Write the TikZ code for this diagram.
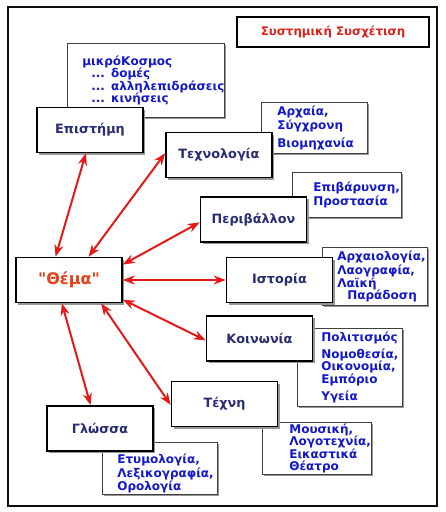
\documentclass[tikz,border=0pt]{standalone}
\usepackage{fontspec}
\setmainfont{DejaVu Sans}[BoldFont={DejaVu Sans Bold}]
\usetikzlibrary{arrows.meta,shadows}

\definecolor{framecol}{RGB}{15, 15, 15}
\definecolor{titlered}{RGB}{215, 35, 25}
\definecolor{themared}{RGB}{230, 65, 25}
\definecolor{topictext}{RGB}{40, 45, 115}
\definecolor{detailtext}{RGB}{20, 25, 200}
\definecolor{arrowred}{RGB}{230, 25, 25}
\definecolor{shadowcol}{RGB}{150, 150, 150}

\tikzset{
  topic/.style={draw=black, line width=1.6pt, fill=white, minimum width=106pt, minimum height=45pt, inner sep=0pt,
    text=topictext, font=\bfseries\fontsize{12.8}{15}\selectfont,
    drop shadow={shadow xshift=2pt, shadow yshift=-2pt, fill=shadowcol, opacity=1}},
  detail/.style={draw=black!75, line width=0.7pt, fill=white, anchor=north west, inner sep=0pt, align=left,
    text=detailtext, font=\bfseries\fontsize{12}{12.3}\selectfont,
    drop shadow={shadow xshift=1.5pt, shadow yshift=-1.5pt, fill=shadowcol, opacity=1}},
  link/.style={arrowred, line width=2pt, {Stealth[length=12pt,width=9pt]}-{Stealth[length=12pt,width=9pt]}}
}

\begin{document}
\begin{tikzpicture}[x=1pt, y=-1pt]
    \useasboundingbox (0,0) rectangle (446,512);

    % Outer frame
    \draw[framecol, line width=2.2pt] (8,7) rectangle (437,506);

    % Title
    \node[draw=black, line width=1.4pt, minimum width=192pt, minimum height=30pt, text=titlered,
          font=\bfseries\fontsize{11.8}{13}\selectfont] (heading) at (333,32) {Συστημική Συσχέτιση};

    % Detail boxes (behind the topics)
    \node[detail, text width=157pt, minimum height=74pt] (mikroDet) at (67,43)
        {\leftskip=15pt μικρόΚοσμος\\ \hspace*{9pt}... δομές\\ \hspace*{9pt}... αλληλεπιδράσεις\\ \hspace*{9pt}... κινήσεις\par};
    \node[detail, text width=106pt, minimum height=51pt] (texnologiaDet) at (261,102)
        {\leftskip=16pt Αρχαία,\\[2pt] Σύγχρονη\\[6pt] Βιομηχανία\par};
    \node[detail, text width=109pt, minimum height=45pt] (perivallonDet) at (292,172)
        {\leftskip=21pt Επιβάρυνση,\\[2pt] Προστασία\par};
    \node[detail, text width=105pt, minimum height=58pt] (istoriaDet) at (322,247)
        {\leftskip=15pt Αρχαιολογία,\\[2pt] Λαογραφία,\\ Λαϊκή\\ \hspace*{10pt}Παράδοση\par};
    \node[detail, text width=105pt, minimum height=78pt] (koinoniaDet) at (297,328)
        {\leftskip=24pt Πολιτισμός\\[5pt] Νομοθεσία,\\ Οικονομία,\\ Εμπόριο\\[5pt] Υγεία\par};
    \node[detail, text width=109pt, minimum height=52pt] (texniDet) at (262,422)
        {\leftskip=27pt Μουσική,\\ Λογοτεχνία,\\ Εικαστικά\\ Θέατρο\par};
    \node[detail, text width=115pt, minimum height=52pt] (glossaDet) at (102,442)
        {\leftskip=15pt \rule{0pt}{20pt}Ετυμολογία,\\[1pt] Λεξικογραφία,\\[1pt] Ορολογία\par};

    % Topics
    \node[topic] (episteme) at (90,130) {Επιστήμη};
    \node[topic] (texnologia) at (219,155) {Τεχνολογία};
    \node[topic] (perivallon) at (253.5,219.5) {Περιβάλλον};
    \node[topic] (istoria) at (279.5,280) {Ιστορία};
    \node[topic] (koinonia) at (259.5,338.5) {Κοινωνία};
    \node[topic] (texni) at (224.5,404) {Τέχνη};
    \node[topic] (glossa) at (100,428.5) {Γλώσσα};

    % Centre
    \node[topic, text=themared, font=\bfseries\fontsize{16}{18}\selectfont] (thema) at (69,280) {\textquotedbl Θέμα\textquotedbl};

    % Links
    \draw[link] (thema.120) -- (episteme.-100);
    \draw[link] (thema.50) -- (texnologia.178);
    \draw[link] (thema.16) -- (perivallon.183);
    \draw[link] (thema.east) -- (istoria.west);
    \draw[link] (thema.-20) -- (koinonia.182);
    \draw[link] (thema.-36) -- (texni.181);
    \draw[link] (thema.-107) -- (glossa.112);

\end{tikzpicture}
\end{document}
